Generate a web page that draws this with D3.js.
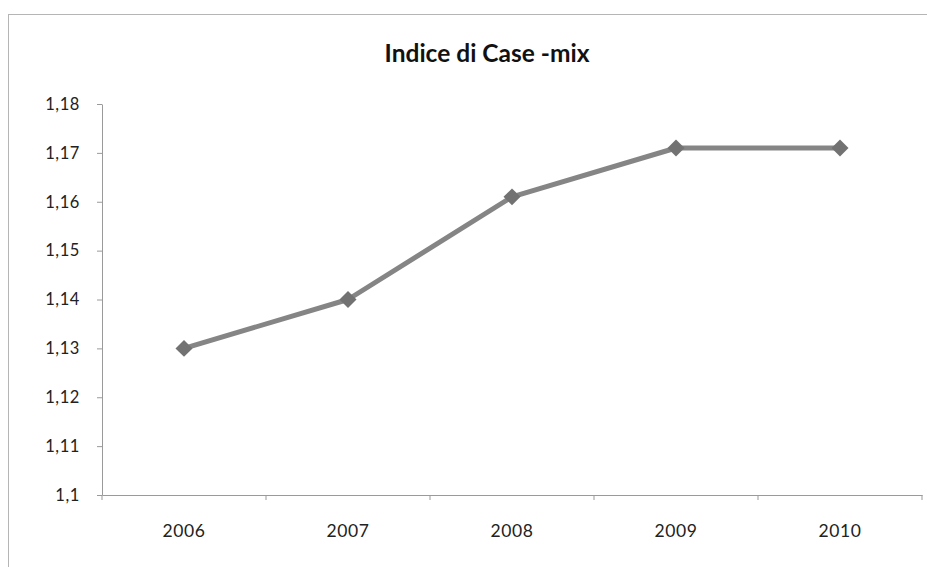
<!DOCTYPE html>
<html><head><meta charset="utf-8">
<script src="https://cdn.jsdelivr.net/npm/d3@7"></script>
<style>body{margin:0;background:#fff}svg{display:block}</style>
</head><body>
<svg id="c" width="927" height="567"></svg>
<script>
const title = "Indice di Case -mix";
const years = ["2006","2007","2008","2009","2010"];
const values = [1.13, 1.14, 1.161, 1.171, 1.171];
const yTicks = [1.1,1.11,1.12,1.13,1.14,1.15,1.16,1.17,1.18];

const svg = d3.select("#c");
const font = "Lato, 'Open Sans', sans-serif";
svg.append("rect").attr("x",8.5).attr("y",14.5).attr("width",1000).attr("height",1000)
  .attr("fill","none").attr("stroke","#b5b5b5").attr("stroke-width",1);

const m = {l:102, r:922, t:104, b:495};
const x = d3.scaleBand().domain(years).range([m.l, m.r]);
const y = d3.scaleLinear().domain([1.1,1.18]).range([m.b, m.t]);
const fmt = d => String(+d.toFixed(2)).replace(".", ",");

svg.append("text").attr("x",487).attr("y",62).attr("text-anchor","middle")
  .attr("font-family",font).attr("font-weight","bold").attr("font-size",24.5).attr("fill","#111").text(title);

const ya = svg.append("g").attr("transform",`translate(${m.l},0)`)
  .call(d3.axisLeft(y).tickValues(yTicks).tickSize(5).tickSizeOuter(0).tickPadding(17).tickFormat(fmt));
ya.selectAll("text").attr("font-family",font).attr("font-size",16.5).attr("letter-spacing","0.6px").attr("fill","#222");
ya.selectAll("line,path").attr("stroke","#9a9a9a");

const xa = svg.append("g").attr("transform",`translate(0,${m.b})`)
  .call(d3.axisBottom(x).tickSize(0).tickPadding(30));
xa.selectAll("text").attr("font-family",font).attr("font-size",17.5).attr("letter-spacing","0.6px").attr("fill","#222");
xa.selectAll("path").attr("stroke","#9a9a9a");
const bounds = years.map(d => x(d)).concat([m.r]);
svg.append("g").selectAll("line").data(bounds).join("line")
  .attr("x1",d=>d).attr("x2",d=>d).attr("y1",m.b).attr("y2",m.b+5).attr("stroke","#9a9a9a");

const pts = years.map((d,i)=>[x(d)+x.bandwidth()/2, y(values[i])]);
svg.append("path").datum(pts).attr("d",d3.line()).attr("fill","none")
  .attr("stroke","#858585").attr("stroke-width",5).attr("stroke-linejoin","round");
svg.append("g").selectAll("path").data(pts).join("path")
  .attr("d",d3.symbol(d3.symbolSquare, 144))
  .attr("transform",d=>`translate(${d[0]},${d[1]}) rotate(45)`)
  .attr("fill","#727272");
</script>
</body></html>
